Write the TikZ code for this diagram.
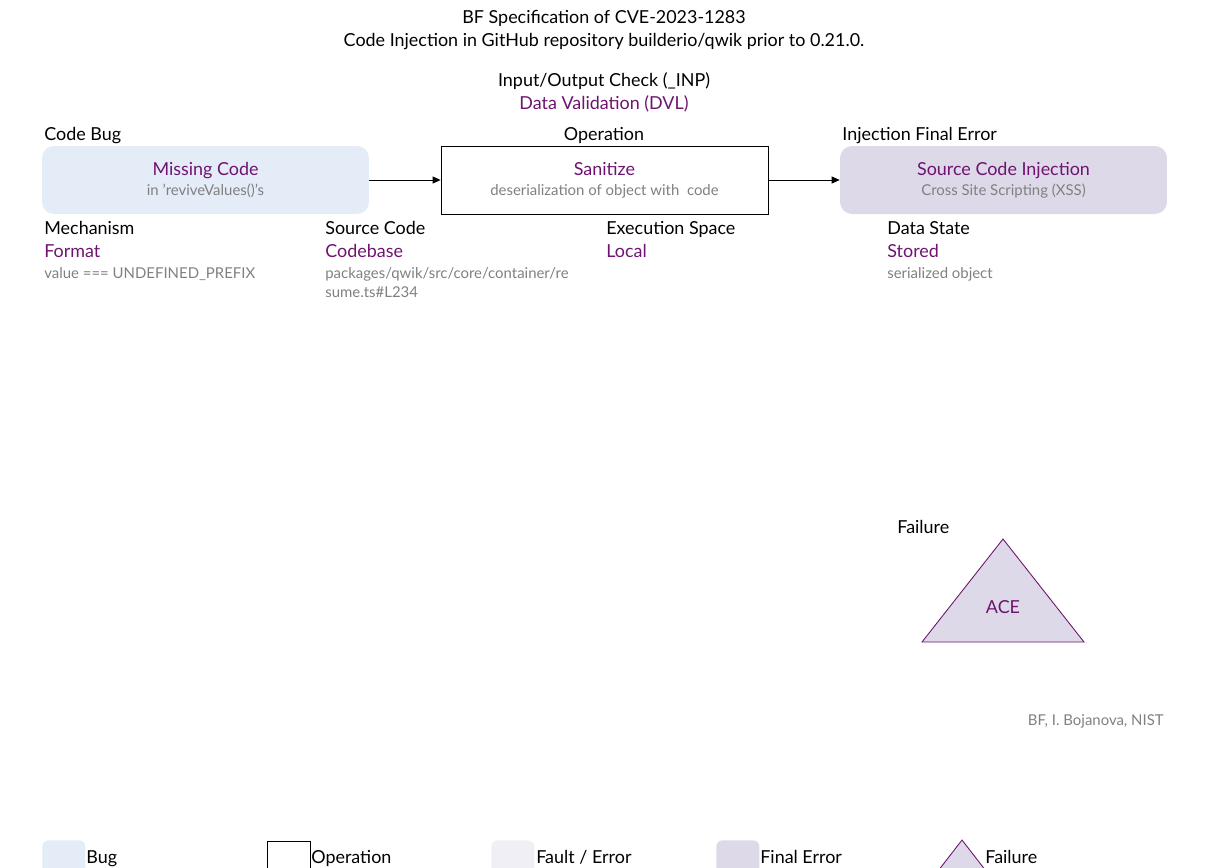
\documentclass[tikz,border=0pt]{standalone}
\usepackage{fontspec}
\setmainfont{Lato}
\usetikzlibrary{arrows.meta,positioning}
\definecolor{bfpurple}{HTML}{6E1470}
\definecolor{bfgray}{HTML}{808080}
\definecolor{bugfill}{HTML}{E4ECF8}
\definecolor{faultfill}{HTML}{F1EFF6}
\definecolor{finalfill}{HTML}{DDD9E8}
\newcommand{\bfsub}[1]{\\{\fontsize{8.5}{10.5}\selectfont\color{bfgray}#1}}
\tikzset{
  heading/.style={inner sep=0pt,text height=1.9ex,text depth=.2ex,font=\fontsize{10.2}{11.5}\selectfont},
  caption/.style={heading,anchor=west},
  value/.style={caption,text=bfpurple},
  detail/.style={anchor=west,inner sep=0pt,text height=1.9ex,text depth=.2ex,text=bfgray,font=\fontsize{8.5}{11}\selectfont},
  classbox/.style={minimum width=6.54cm,minimum height=1.36cm,inner sep=0pt,align=center,
    font=\fontsize{10.2}{11.3}\selectfont,text=bfpurple},
  bugbox/.style={classbox,fill=bugfill,rounded corners=0.24cm},
  opbox/.style={classbox,draw=black,line width=0.5pt},
  finalbox/.style={classbox,fill=finalfill,rounded corners=0.24cm},
  flow/.style={-{Triangle[length=1.6mm,width=1.4mm]},line width=0.5pt},
  failure/.style={fill=finalfill,draw=bfpurple,line width=0.5pt},
  swatch/.style={minimum width=0.86cm,minimum height=1cm,inner sep=0pt,anchor=north west},
}

\begin{document}
\begin{tikzpicture}[x=0.02cm,y=-0.02cm]
    \useasboundingbox (0,0) rectangle (1207,867);
    % title
    \node[heading] (title) at (604,16) {BF Specification of CVE-2023-1283};
    \node[heading] (subtitle) at (604,39) {Code Injection in GitHub repository builderio/qwik prior to 0.21.0.};
    \node[heading] (class) at (604,79) {Input/Output Check (\_INP)};
    \node[heading,text=bfpurple] (classname) at (604,102) {Data Validation (DVL)};

    % chain
    \node[caption] (buglbl) at (44,133) {Code Bug};
    \node[heading] (oplbl) at (604,133) {Operation};
    \node[caption] (finallbl) at (842,133) {Injection Final Error};
    \node[bugbox] (bug) at (205.5,180) {Missing Code\bfsub{in 'reviveValues()'s}};
    \node[opbox] (op) at (604.5,180) {Sanitize\bfsub{deserialization of object with\ \ code}};
    \node[finalbox] (final) at (1003.5,180) {Source Code Injection\bfsub{Cross Site Scripting (XSS)}};
    \draw[flow] (bug) -- (op);
    \draw[flow] (op) -- (final);

    % attributes
    \node[caption] (mech) at (44,227) {Mechanism};
    \node[value] (mechval) at (44,250) {Format};
    \node[detail] (mechdet) at (44,271) {value === UNDEFINED\_PREFIX};
    \node[caption] (src) at (325,227) {Source Code};
    \node[value] (srcval) at (325,250) {Codebase};
    \node[detail] (srcdet) at (325,271) {packages/qwik/src/core/container/re};
    \node[detail] (srcdet2) at (325,290) {sume.ts\#L234};
    \node[caption] (space) at (606,227) {Execution Space};
    \node[value] (spaceval) at (606,250) {Local};
    \node[caption] (state) at (887,227) {Data State};
    \node[value] (stateval) at (887,250) {Stored};
    \node[detail] (statedet) at (887,271) {serialized object};

    % failure
    \node[caption] (faillbl) at (897,526) {Failure};
    \draw[failure] (1003,539) coordinate (failtop) -- (1084,642) -- (922,642) -- cycle;
    \node[heading,text=bfpurple] (fail) at (1003,606) {ACE};
    \node[detail,anchor=east] (credit) at (1164,718) {BF, I. Bojanova, NIST};

    % legend
    \node[swatch,fill=bugfill,rounded corners=0.12cm] (lbug) at (42,840) {};
    \node[caption] (lbugtxt) at (86,856) {Bug};
    \node[swatch,draw=black,line width=0.5pt] (lop) at (267,841) {};
    \node[caption] (loptxt) at (311,856) {Operation};
    \node[swatch,fill=faultfill,rounded corners=0.12cm] (lfault) at (491,840) {};
    \node[caption] (lfaulttxt) at (536,856) {Fault / Error};
    \node[swatch,fill=finalfill,rounded corners=0.12cm] (lfinal) at (716,840) {};
    \node[caption] (lfinaltxt) at (760,856) {Final Error};
    \draw[failure] (962,840) -- (993,880) -- (931,880) -- cycle;
    \node[caption] (lfailtxt) at (985,856) {Failure};
\end{tikzpicture}
\end{document}
